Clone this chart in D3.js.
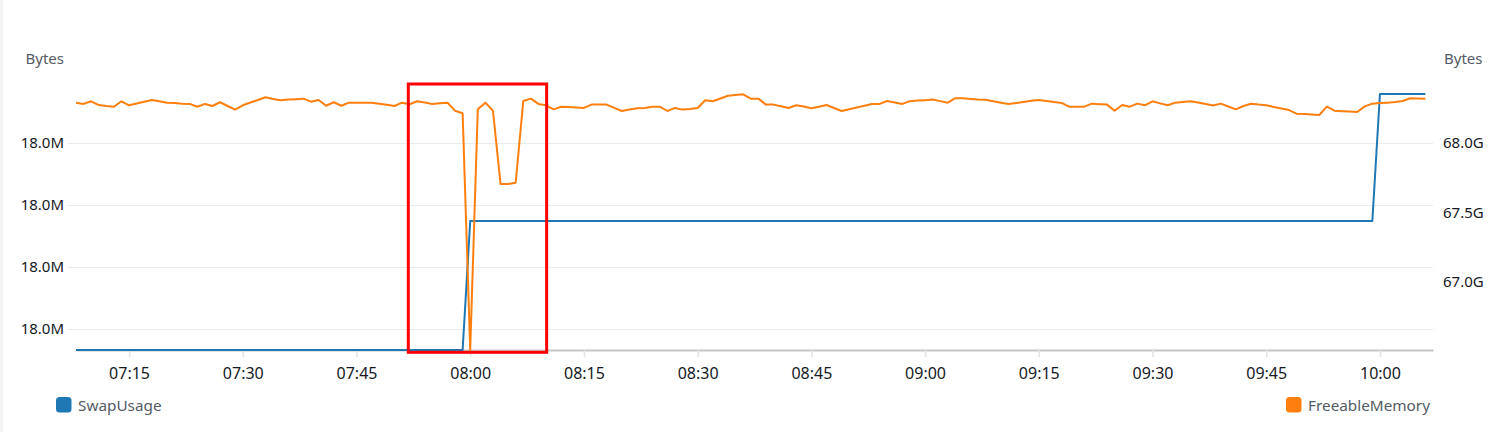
<!DOCTYPE html>
<html>
<head>
<meta charset="utf-8">
<script src="https://cdn.jsdelivr.net/npm/d3@7"></script>
<style>
  html, body { margin: 0; padding: 0; background: #ffffff; }
  svg { display: block; font-family: "Noto Sans", "Open Sans", sans-serif; }
</style>
</head>
<body>
<svg id="chart" width="1493" height="432"></svg>
<script>
// ---------- data ----------
const freeStart = "07:08";           // FreeableMemory: one point per minute from this time
const freeableMemoryG = [
  68.290, 68.281, 68.300, 68.273, 68.266, 68.261, 68.300, 68.271, 68.284, 68.296,
  68.309, 68.300, 68.290, 68.287, 68.283, 68.281, 68.261, 68.281, 68.266, 68.293,
  68.266, 68.240, 68.271, 68.291, 68.309, 68.329, 68.317, 68.307, 68.312, 68.315,
  68.319, 68.297, 68.309, 68.268, 68.293, 68.268, 68.290, 68.290, 68.290, 68.290,
  68.282, 68.275, 68.266, 68.290, 68.279, 68.300, 68.291, 68.281, 68.286, 68.290,
  68.232, 68.214, 66.511, 68.242, 68.290, 68.232, 67.705, 67.705, 67.714, 68.302,
  68.319, 68.281, 68.271, 68.242, 68.261, 68.258, 68.255, 68.252, 68.276, 68.276,
  68.276, 68.252, 68.230, 68.241, 68.250, 68.252, 68.260, 68.261, 68.230, 68.252,
  68.240, 68.245, 68.252, 68.307, 68.300, 68.320, 68.340, 68.345, 68.350, 68.319,
  68.319, 68.276, 68.276, 68.264, 68.252, 68.271, 68.263, 68.250, 68.260, 68.273,
  68.252, 68.230, 68.243, 68.255, 68.268, 68.281, 68.281, 68.302, 68.291, 68.281,
  68.301, 68.305, 68.308, 68.312, 68.301, 68.290, 68.322, 68.322, 68.317, 68.312,
  68.311, 68.300, 68.290, 68.281, 68.288, 68.295, 68.303, 68.309, 68.302, 68.295,
  68.288, 68.261, 68.261, 68.261, 68.283, 68.279, 68.276, 68.232, 68.273, 68.261,
  68.283, 68.271, 68.300, 68.285, 68.271, 68.290, 68.295, 68.300, 68.291, 68.281,
  68.270, 68.283, 68.262, 68.242, 68.266, 68.282, 68.276, 68.272, 68.259, 68.248,
  68.237, 68.211, 68.208, 68.204, 68.201, 68.261, 68.232, 68.229, 68.226, 68.223,
  68.263, 68.283, 68.287, 68.290, 68.294, 68.302, 68.322, 68.320, 68.319
];
const swapTimes  = ["07:08", "07:59", "08:00", "09:59", "10:00", "10:06"];
const swapValues = [17986613, 17986613, 18007419, 18007419, 18027903, 18027903];

const xDomain = ["07:08", "10:07"];
const leftDomain  = [17986613, 18030161];
const rightDomain = [66.511, 68.453];
const leftTicks  = [17990000, 18000000, 18010000, 18020000];
const rightTicks = [67.0, 67.5, 68.0];
const highlight  = ["07:51:50", "08:10:05"];
const seriesNames = ["SwapUsage", "FreeableMemory"];
const unitLabel = "Bytes";

// ---------- setup ----------
const colors = { swap: "#1f77b4", free: "#ff7f0e" };
const parseHM = d3.utcParse("%H:%M");
const parseHMS = d3.utcParse("%H:%M:%S");
const plot = { left: 76, right: 1433, top: 80, bottom: 350 };

const svg = d3.select("#chart");
svg.append("rect").attr("x", 0).attr("y", 0).attr("width", 3.3).attr("height", 432).attr("fill", "#f2f3f3");

const x = d3.scaleUtc().domain(xDomain.map(parseHM)).range([plot.left, plot.right]);
const yL = d3.scaleLinear().domain(leftDomain).range([plot.bottom, plot.top]);
const yR = d3.scaleLinear().domain(rightDomain).range([plot.bottom, plot.top]);

const t0 = parseHM(freeStart);
const freeData = freeableMemoryG.map((v, i) => ({ t: d3.utcMinute.offset(t0, i), v }));
const swapData = swapTimes.map((t, i) => ({ t: parseHM(t), v: swapValues[i] }));

// gridlines (left axis ticks)
svg.append("g").selectAll("line").data(leftTicks).join("line")
  .attr("x1", 68).attr("x2", plot.right)
  .attr("y1", d => Math.round(yL(d)) + 0.5).attr("y2", d => Math.round(yL(d)) + 0.5)
  .attr("stroke", "#e9ebed").attr("stroke-width", 1);

// left axis labels
const fmtL = d3.format(".3s");
svg.append("g").selectAll("text").data(leftTicks).join("text")
  .attr("x", 64).attr("y", d => yL(d)).attr("dy", "0.35em")
  .attr("text-anchor", "end").attr("font-size", 15).attr("fill", "#16191f")
  .text(d => fmtL(d));

// right axis labels
svg.append("g").selectAll("text").data(rightTicks).join("text")
  .attr("x", 1443).attr("y", d => yR(d)).attr("dy", "0.35em")
  .attr("text-anchor", "start").attr("font-size", 15).attr("fill", "#16191f")
  .text(d => d3.format(".1f")(d) + "G");

// unit labels
svg.append("text").attr("x", 64).attr("y", 64).attr("text-anchor", "end")
  .attr("font-size", 15).attr("fill", "#545b64").text(unitLabel);
svg.append("text").attr("x", 1444).attr("y", 64).attr("text-anchor", "start")
  .attr("font-size", 15).attr("fill", "#545b64").text(unitLabel);

// x axis
const xAxis = d3.axisBottom(x)
  .ticks(d3.utcMinute.every(15))
  .tickFormat(d3.utcFormat("%H:%M"))
  .tickSizeInner(7).tickSizeOuter(0).tickPadding(11);
const gx = svg.append("g").attr("transform", `translate(0,${plot.bottom})`).call(xAxis);
gx.select(".domain").attr("stroke", "#c6c6c6").attr("stroke-width", 2);
gx.selectAll(".tick line").attr("stroke", "#e3e3e3").attr("stroke-width", 1.5);
gx.selectAll(".tick text").attr("font-size", 16).attr("fill", "#16191f")
  .attr("font-family", "\"Noto Sans\", sans-serif");

// lines
const lineL = d3.line().x(d => x(d.t)).y(d => yL(d.v));
const lineR = d3.line().x(d => x(d.t)).y(d => yR(d.v));
svg.append("path").datum(swapData).attr("d", lineL)
  .attr("fill", "none").attr("stroke", colors.swap).attr("stroke-width", 2)
  .attr("stroke-linejoin", "round");
svg.append("path").datum(freeData).attr("d", lineR)
  .attr("fill", "none").attr("stroke", colors.free).attr("stroke-width", 2)
  .attr("stroke-linejoin", "round");

// highlight box
const hx0 = x(parseHMS(highlight[0])), hx1 = x(parseHMS(highlight[1]));
svg.append("rect").attr("x", hx0).attr("y", 84)
  .attr("width", hx1 - hx0).attr("height", 352.3 - 84)
  .attr("fill", "none").attr("stroke", "#ff0000").attr("stroke-width", 3);

// legend
const leg = svg.append("g");
leg.append("rect").attr("x", 56).attr("y", 397).attr("width", 15.5).attr("height", 15.5)
  .attr("rx", 3.5).attr("fill", colors.swap);
leg.append("text").attr("x", 78).attr("y", 411).attr("font-size", 15.3)
  .attr("fill", "#545b64").text(seriesNames[0]);
leg.append("rect").attr("x", 1286).attr("y", 397).attr("width", 15.5).attr("height", 15.5)
  .attr("rx", 3.5).attr("fill", colors.free);
leg.append("text").attr("x", 1430).attr("y", 411).attr("text-anchor", "end").attr("font-size", 15.3)
  .attr("fill", "#545b64").text(seriesNames[1]);
</script>
</body>
</html>
